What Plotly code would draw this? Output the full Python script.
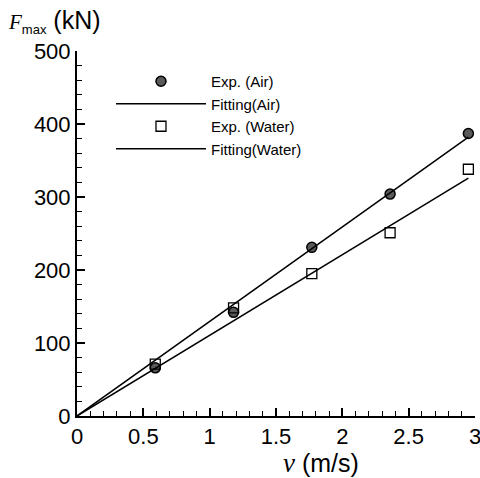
import plotly.graph_objects as go

# Measured peak force against impact velocity
velocity = [0.59, 1.18, 1.77, 2.36, 2.95]
force_air = [66, 142, 231, 304, 387]
force_water = [71, 148, 195, 251, 338]

# Linear fits through the origin (end points of each fitted line)
fit_velocity = [0.0, 2.95]
fit_air = [0.0, 382]
fit_water = [0.0, 326]

x_ticks = [0, 0.5, 1, 1.5, 2, 2.5, 3]
x_tick_text = ["0", "0.5", "1", "1.5", "2", "2.5", "3"]
y_ticks = [0, 100, 200, 300, 400, 500]
y_tick_text = ["0", "100", "200", "300", "400", "500"]

SANS = "Liberation Sans, Arial, sans-serif"
SERIF = "Liberation Serif, Times New Roman, serif"

fig = go.Figure()
fig.add_trace(go.Scatter(
    x=velocity, y=force_air, mode="markers", name="Exp. (Air)",
    marker=dict(symbol="circle", size=10, color="#5a5a5a",
                line=dict(color="black", width=1.5)),
))
fig.add_trace(go.Scatter(
    x=fit_velocity, y=fit_air, mode="lines", name="Fitting(Air)",
    line=dict(color="black", width=1.5),
))
fig.add_trace(go.Scatter(
    x=velocity, y=force_water, mode="markers", name="Exp. (Water)",
    marker=dict(symbol="square-open", size=10, color="black",
                line=dict(color="black", width=1.3)),
))
fig.add_trace(go.Scatter(
    x=fit_velocity, y=fit_water, mode="lines", name="Fitting(Water)",
    line=dict(color="black", width=1.5),
))

axis_common = dict(
    showgrid=False, zeroline=False, showline=True, linecolor="black",
    linewidth=2, ticks="inside", tickcolor="black", tickwidth=1.5,
    ticklen=8, tickfont=dict(family=SANS, size=22, color="black"),
    mirror=False, ticklabeloverflow="allow", automargin=False,
)

fig.update_xaxes(
    range=[0, 3], tickvals=x_ticks, ticktext=x_tick_text,
    minor=dict(dtick=0.1, ticks="inside", ticklen=5, tickcolor="black",
               tickwidth=1),
    **axis_common,
)
fig.update_yaxes(
    range=[0, 500], tickvals=y_ticks, ticktext=y_tick_text,
    minor=dict(dtick=20, ticks="inside", ticklen=5, tickcolor="black",
               tickwidth=1),
    **axis_common,
)

# Axis titles
fig.add_annotation(
    xref="paper", yref="paper", x=-0.178, y=1.082, xanchor="left",
    yanchor="middle", showarrow=False,
    text=(f"<span style='font-family:{SERIF};font-size:21px'><i>F</i></span>"
          f"<sub><span style='font-family:{SANS};font-size:13px'>max</span></sub>"
          " (kN)"),
    font=dict(family=SANS, size=25, color="black"),
)
fig.add_annotation(
    xref="paper", yref="paper", x=0.512, y=-0.128, xanchor="left",
    yanchor="middle", showarrow=False,
    text=(f"<span style='font-family:{SERIF};font-size:27px'><i>v</i></span>"
          " (m/s)"),
    font=dict(family=SANS, size=25, color="black"),
)

fig.update_layout(
    width=480, height=478,
    margin=dict(l=77, r=5, t=51, b=62, autoexpand=False),
    paper_bgcolor="white", plot_bgcolor="white",
    showlegend=True,
    legend=dict(
        x=0.0854, y=0.9616, xanchor="left", yanchor="top",
        bgcolor="rgba(0,0,0,0)", borderwidth=0, tracegroupgap=0,
        itemwidth=90,
        font=dict(family=SANS, size=15, color="black"),
    ),
)

fig.write_html("out.html")
